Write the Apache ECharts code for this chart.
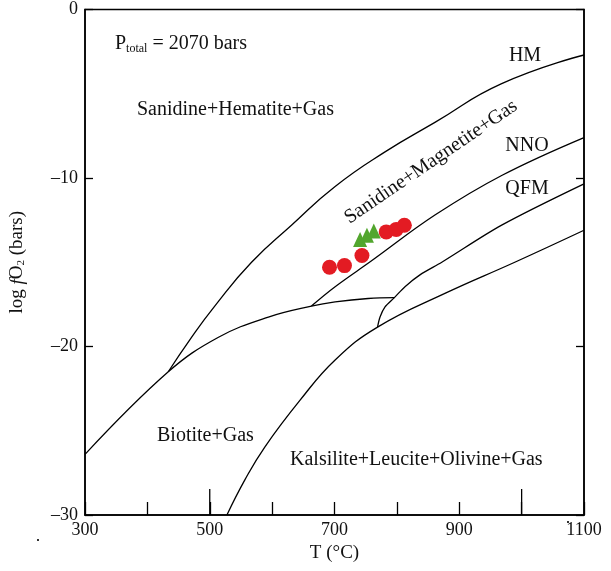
<!DOCTYPE html>
<html>
<head>
<meta charset="utf-8">
<script src="https://cdn.jsdelivr.net/npm/echarts@6/dist/echarts.min.js"></script>
<style>
  html, body { margin: 0; padding: 0; background: #fff; }
  #main { width: 611px; height: 571px; }
</style>
</head>
<body>
<div id="main"></div>
<script>
  // 曲线数据 [T (°C), log fO2]
  const hmCurve = [[433.5, -21.5], [468, -19.6], [508, -17.6], [567, -15.0], [631, -12.8], [701, -10.5], [781, -8.45], [861, -6.7], [968, -4.4], [1100, -2.7]]
  const biotiteCurve = [[300, -26.4], [433.5, -21.5], [514, -19.45], [594, -18.25], [663, -17.6], [701, -17.35], [754, -17.15], [796, -17.1]]
  const nnoCurve = [[663, -17.6], [701, -16.45], [760, -14.9], [861, -12.2], [968, -9.85], [1100, -7.6]]
  const qfmCurve = [[769, -18.85], [773, -18.25], [781, -17.65], [796, -17.1], [813, -16.45], [837, -15.75], [872, -15.0], [968, -12.8], [1100, -10.35]]
  const lowerCurve = [[527.5, -30], [556.5, -27.9], [588.5, -25.95], [644.5, -23.2], [701, -20.8], [769, -18.85], [877, -16.85], [989, -15.0], [1100, -13.1]]
  // 样品点
  const circleT = [692, 716, 744, 783, 799, 812]
  const circleLog = [-15.3, -15.2, -14.6, -13.2, -13.05, -12.8]
  const triangleT = [741, 752, 763]
  const triangleLog = [-13.65, -13.4, -13.15]
  // 刻度
  const xLabels = [300, 500, 700, 900, 1100]
  const xLongTicks = [500, 1000]

  const FONT = "'Liberation Serif', 'Times New Roman', serif"
  const myChart = echarts.init(document.getElementById('main'))

  function lineSeries(data, smooth) {
    return {
      type: 'line',
      data: data,
      smooth: smooth,
      showSymbol: false,
      silent: true,
      lineStyle: { color: '#000', width: 1.3 }
    }
  }

  myChart.setOption({
    animation: false,
    grid: {
      left: 85, right: 27, top: 9.5, bottom: 56,
      show: true, borderColor: '#000', borderWidth: 1.5
    },
    xAxis: {
      type: 'value', min: 300, max: 1100, interval: 100,
      name: 'T (°C)', nameLocation: 'middle', nameGap: 28,
      nameTextStyle: { fontFamily: FONT, fontSize: 19, color: '#111' },
      axisLine: { onZero: false, lineStyle: { color: '#000', width: 1.5 } },
      axisTick: { inside: true, length: 13, lineStyle: { color: '#000', width: 1.3 } },
      axisLabel: {
        customValues: xLabels, fontFamily: FONT, fontSize: 18, color: '#111', margin: 6,
        formatter: v => String(v)
      },
      splitLine: { show: false }
    },
    yAxis: [
      {
        type: 'value', min: -30, max: 0, interval: 10, position: 'left',
        name: 'log {i|f}O{s|2} (bars)', nameLocation: 'middle', nameGap: 58, nameRotate: 90,
        nameTextStyle: {
          fontFamily: FONT, fontSize: 19, color: '#111',
          rich: {
            i: { fontFamily: FONT, fontSize: 19, fontStyle: 'italic', color: '#111' },
            s: { fontFamily: FONT, fontSize: 11, color: '#111', verticalAlign: 'bottom', padding: [8, 0, 0, 0] }
          }
        },
        axisLine: { onZero: false, lineStyle: { color: '#000', width: 1.5 } },
        axisTick: { inside: true, length: 8, lineStyle: { color: '#000', width: 1.3 } },
        axisLabel: {
          fontFamily: FONT, fontSize: 18, color: '#111', margin: 7,
          formatter: v => String(v).replace('-', '\u2013')
        },
        splitLine: { show: false }
      },
      {
        type: 'value', min: -30, max: 0, interval: 10, position: 'right',
        axisLine: { show: true, onZero: false, lineStyle: { color: '#000', width: 1.5 } },
        axisTick: { inside: true, length: 8, lineStyle: { color: '#000', width: 1.3 } },
        axisLabel: { show: false },
        splitLine: { show: false }
      }
    ],
    series: [
      lineSeries(hmCurve, 0.5),
      lineSeries(biotiteCurve, 0.4),
      lineSeries(nnoCurve, 0.4),
      lineSeries(qfmCurve, 0.3),
      lineSeries(lowerCurve, 0.45),
      {
        // 500 和 1000 处的长刻度
        type: 'custom',
        silent: true,
        data: xLongTicks.map(v => [v]),
        renderItem: function (params, api) {
          const p = api.coord([api.value(0), -30])
          return {
            type: 'line',
            shape: { x1: p[0], y1: p[1], x2: p[0], y2: p[1] - 26 },
            style: { stroke: '#000', lineWidth: 1.3 }
          }
        }
      },
      {
        type: 'scatter',
        symbol: 'triangle',
        symbolSize: [14, 15],
        itemStyle: { color: '#52a62e', opacity: 1 },
        data: triangleT.map((t, i) => [t, triangleLog[i]])
      },
      {
        type: 'scatter',
        symbol: 'circle',
        symbolSize: 15,
        itemStyle: { color: '#e31b23', opacity: 1 },
        data: circleT.map((t, i) => [t, circleLog[i]])
      }
    ],
    graphic: [
      {
        type: 'text', x: 115, y: 44,
        style: {
          text: '{a|P}{s|total}{a| = 2070 bars}',
          verticalAlign: 'middle', textVerticalAlign: 'middle',
          rich: {
            a: { fontFamily: FONT, fontSize: 20, fill: '#111' },
            s: { fontFamily: FONT, fontSize: 12, fill: '#111', verticalAlign: 'bottom', padding: [10, 0, 0, 0] }
          }
        }
      },
      { type: 'text', x: 137, y: 110, style: { text: 'Sanidine+Hematite+Gas', font: '20px ' + FONT, fill: '#111', verticalAlign: 'middle', textVerticalAlign: 'middle' } },
      { type: 'text', x: 157, y: 436, style: { text: 'Biotite+Gas', font: '20px ' + FONT, fill: '#111', verticalAlign: 'middle', textVerticalAlign: 'middle' } },
      { type: 'text', x: 290, y: 460, style: { text: 'Kalsilite+Leucite+Olivine+Gas', font: '20px ' + FONT, fill: '#111', verticalAlign: 'middle', textVerticalAlign: 'middle' } },
      { type: 'text', x: 525, y: 56, style: { text: 'HM', font: '20px ' + FONT, fill: '#111', align: 'center', textAlign: 'center', verticalAlign: 'middle', textVerticalAlign: 'middle' } },
      { type: 'text', x: 527, y: 146, style: { text: 'NNO', font: '20px ' + FONT, fill: '#111', align: 'center', textAlign: 'center', verticalAlign: 'middle', textVerticalAlign: 'middle' } },
      { type: 'text', x: 527, y: 189, style: { text: 'QFM', font: '20px ' + FONT, fill: '#111', align: 'center', textAlign: 'center', verticalAlign: 'middle', textVerticalAlign: 'middle' } },
      {
        type: 'text', x: 431, y: 162, rotation: 34.3 * Math.PI / 180,
        style: { text: 'Sanidine+Magnetite+Gas', font: '20px ' + FONT, fill: '#111', align: 'center', textAlign: 'center', verticalAlign: 'middle', textVerticalAlign: 'middle' }
      },
      { type: 'rect', shape: { x: 37, y: 539, width: 2, height: 2 }, style: { fill: '#333' } },
      { type: 'rect', shape: { x: 567, y: 521, width: 2, height: 2 }, style: { fill: '#333' } }
    ]
  })
</script>
</body>
</html>
